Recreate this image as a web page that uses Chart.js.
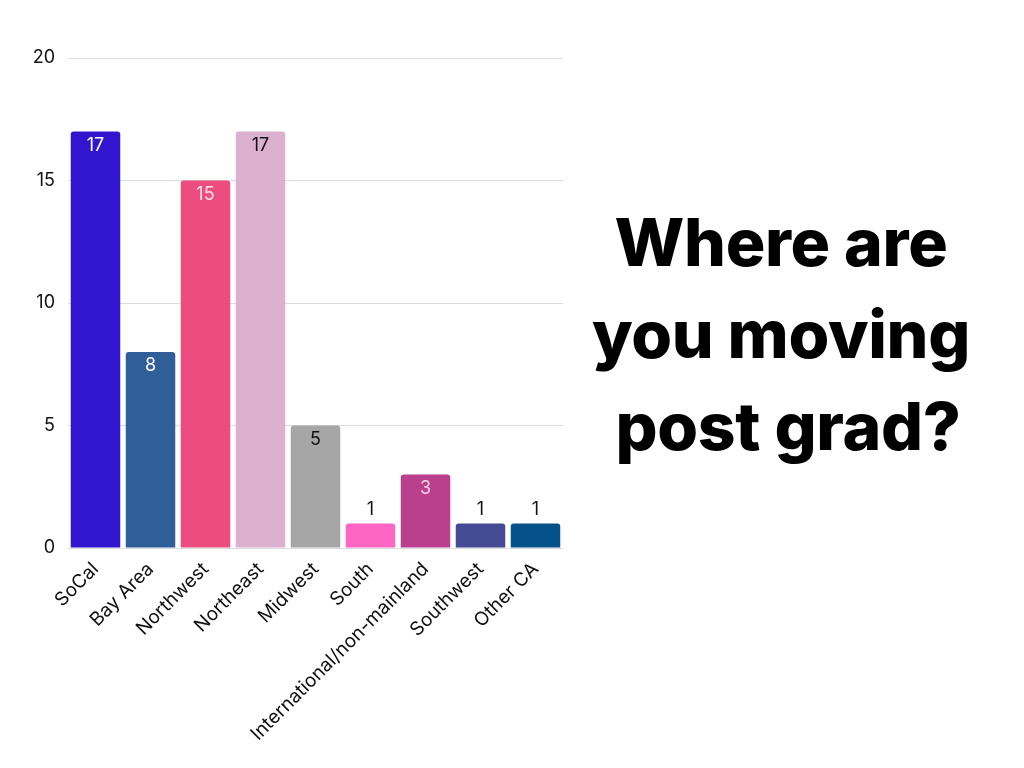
<!DOCTYPE html>
<html>
<head>
<meta charset="utf-8">
<script src="https://cdn.jsdelivr.net/npm/chart.js@4.4.1/dist/chart.umd.min.js"></script>
<style>
  html, body { margin: 0; padding: 0; background: #ffffff; }
  body { width: 1024px; height: 768px; position: relative; overflow: hidden; }
  #wrap { position: absolute; left: 0; top: 0; width: 580px; height: 768px; }
  #titulo {
    position: absolute; left: 560px; width: 442px; top: 196px;
    font-family: Inter, "Noto Sans", sans-serif; font-weight: 800;
    font-size: 66px; line-height: 92px; text-align: center; color: #000;
    letter-spacing: -0.3px;
  }
</style>
</head>
<body>
<div id="wrap"><canvas id="grafico"></canvas></div>
<div id="titulo">Where are<br>you moving<br>&nbsp;post grad?</div>
<script>
// Datos
const categorias = ['SoCal', 'Bay Area', 'Northwest', 'Northeast', 'Midwest', 'South', 'International/non-mainland', 'Southwest', 'Other CA'];
const valores = [17, 8, 15, 17, 5, 1, 3, 1, 1];
const ticksY = [0, 5, 10, 15, 20];

// Colores
const coloresBarras = ['#3216cf', '#2f5e98', '#ec4c7f', '#dcb1cf', '#a6a6a6', '#ff66c4', '#ba3f8d', '#444a93', '#04518c'];
const coloresEtiquetas = ['#ffffff', '#ffffff', '#fde0ea', '#111111', '#111111', '#111111', '#f8d4ea', '#111111', '#111111'];

const fuente = 'Inter, "Noto Sans", sans-serif';

// etiquetas de valor (dentro de la barra, o encima si es muy baja)
const etiquetasValor = {
    id: 'etiquetasValor',
    afterDatasetsDraw(chart) {
        const ctx = chart.ctx;
        const meta = chart.getDatasetMeta(0);
        ctx.save();
        ctx.font = '18px ' + fuente;
        ctx.textAlign = 'center';
        ctx.textBaseline = 'middle';
        meta.data.forEach((bar, i) => {
            const alto = bar.base - bar.y;
            const y = alto > 30 ? bar.y + 14 : bar.y - 14;
            ctx.fillStyle = coloresEtiquetas[i];
            ctx.fillText(String(valores[i]), bar.x, y);
        });
        ctx.restore();
    }
};

const canvas = document.getElementById('grafico');
new Chart(canvas, {
    type: 'bar',
    data: {
        labels: categorias,
        datasets: [{
            data: valores,
            backgroundColor: coloresBarras,
            borderRadius: 3,
            borderSkipped: 'bottom',
            barPercentage: 0.9,
            categoryPercentage: 1
        }]
    },
    options: {
        responsive: true,
        maintainAspectRatio: false,
        animation: false,
        layout: { padding: { top: 58, right: 17, left: 0, bottom: 0 } },
        plugins: {
            legend: { display: false },
            tooltip: { enabled: false }
        },
        scales: {
            x: {
                grid: { display: false },
                border: { display: false },
                ticks: {
                    color: '#111111',
                    font: { family: fuente, size: 19 },
                    maxRotation: 45,
                    minRotation: 45,
                    padding: 2
                },
                afterFit: s => { s.height = 220; }
            },
            y: {
                min: 0,
                max: 20,
                afterBuildTicks: s => { s.ticks = ticksY.map(v => ({ value: v })); },
                afterFit: s => { s.width = 68; },
                grid: { color: '#dcdcdc', drawTicks: false, lineWidth: 1 },
                border: { display: false },
                ticks: {
                    color: '#111111',
                    font: { family: fuente, size: 18 },
                    padding: 13
                }
            }
        }
    },
    plugins: [etiquetasValor]
});
</script>
</body>
</html>
